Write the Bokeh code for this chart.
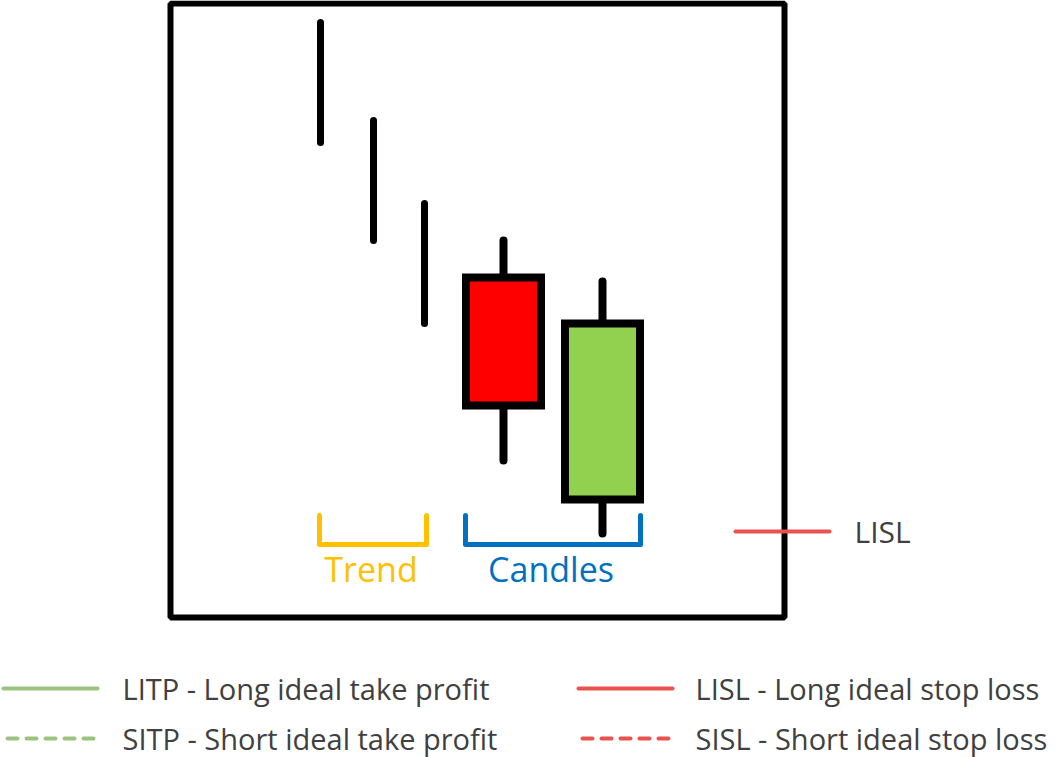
from bokeh.plotting import figure
from bokeh.models import Range1d
from bokeh.embed import file_html
from bokeh.resources import INLINE
from bokeh.core.properties import value

W, H = 1060, 757

# Trend sticks
trend_x = [320, 373, 424]
trend_top = [22, 120, 203]
trend_bottom = [142, 240, 323]

# Candles
candle_x = [503, 602]
candle_high = [240, 281]
candle_low = [460, 533]
candle_open = [277, 499]
candle_close = [405, 323]
candle_colors = ["#FF0000", "#92D050"]
candle_half = [37.5, 37.5]

# Brackets
bracket_left = [319, 465]
bracket_right = [426, 640]
bracket_colors = ["#FFC000", "#0070C0"]
bracket_labels = ["Trend", "Candles"]

legend_labels = ["LITP - Long ideal take profit", "SITP - Short ideal take profit",
                 "LISL - Long ideal stop loss", "SISL - Short ideal stop loss"]
legend_colors = ["#9BC37E", "#9BC37E", "#E8534F", "#E8534F"]
legend_dash = ["solid", "10 9", "solid", "10 9"]

p = figure(width=W, height=H, x_range=Range1d(0, W), y_range=Range1d(H, 0),
           output_backend="svg", toolbar_location=None, min_border=0)
p.axis.visible = False
p.grid.visible = False
p.outline_line_color = None
p.background_fill_color = "white"
p.border_fill_color = "white"

# frame
p.quad(left=[170], right=[784], top=[3], bottom=[617], fill_color=None,
       line_color="black", line_width=6)

# trend sticks
p.segment(x0=trend_x, x1=trend_x, y0=trend_top, y1=trend_bottom,
          line_color="black", line_width=7, line_cap="round")

# candle wicks
p.segment(x0=candle_x, x1=candle_x, y0=candle_high, y1=candle_low,
          line_color="black", line_width=8, line_cap="round")
# candle bodies
left = [x - h for x, h in zip(candle_x, candle_half)]
right = [x + h for x, h in zip(candle_x, candle_half)]
p.quad(left=left, right=right, top=candle_open, bottom=candle_close,
       fill_color=candle_colors, line_color="black", line_width=8, line_join="miter")

# brackets
for l, r, c, lab in zip(bracket_left, bracket_right, bracket_colors, bracket_labels):
    p.line(x=[l, l, r, r], y=[515, 544, 544, 515], line_color=c, line_width=5,
           line_cap="round", line_join="round")
    p.text(x=[(l + r) / 2 - 2], y=[568], text=[lab], text_color=c,
           text_font=value("Open Sans"), text_font_size="34px",
           text_align="center", text_baseline="middle")

# LISL in-plot line
p.line(x=[735, 829], y=[531, 531], line_color="#E8534F", line_width=4, line_cap="round")
p.text(x=[854], y=[531], text=["LISL"], text_color="#404040",
       text_font=value("Open Sans"), text_font_size="30px",
       text_align="left", text_baseline="middle")

# legend
lx0 = [3, 7, 578, 582]
lx1 = [97, 98, 672, 673]
ly = [688, 738, 688, 738]
tx = [122, 122, 695, 695]
for a, b, y, c, d, t, x in zip(lx0, lx1, ly, legend_colors, legend_dash, legend_labels, tx):
    p.line(x=[a, b], y=[y, y], line_color=c, line_width=4, line_dash=d, line_cap="round")
    p.text(x=[x], y=[y], text=[t], text_color="#404040",
           text_font=value("Open Sans"), text_font_size="29px",
           text_align="left", text_baseline="middle")

open("out.html", "w").write(file_html(p, INLINE))
